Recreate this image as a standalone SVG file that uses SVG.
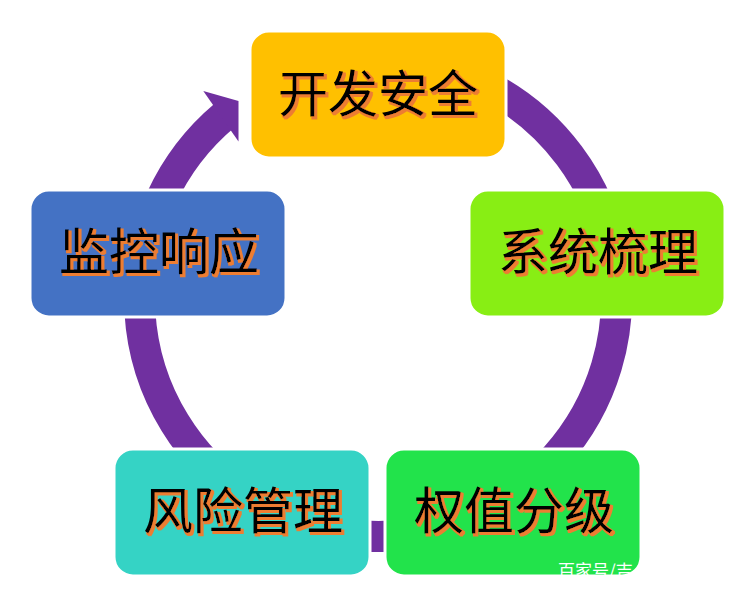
<svg xmlns="http://www.w3.org/2000/svg" width="750" height="591" viewBox="0 0 750 591">
<style>
.box{stroke:#ffffff;stroke-width:3}
.lbl{font-family:"Noto Sans CJK SC","Noto Sans CJK TC",sans-serif;font-size:50px;fill:#000000;text-anchor:middle;filter:url(#sh)}
.wm{font-family:"Noto Sans CJK SC","Noto Sans CJK TC",sans-serif;font-size:17px;fill:#ffffff}
</style>
<defs>
<filter id="sh" x="-10%" y="-20%" width="130%" height="150%">
<feMorphology in="SourceAlpha" operator="dilate" radius="1" result="d"/>
<feOffset in="d" dx="2" dy="2" result="o"/>
<feFlood flood-color="#ED7D31"/>
<feComposite in2="o" operator="in" result="s"/>
<feMerge><feMergeNode in="s"/><feMergeNode in="SourceGraphic"/></feMerge>
</filter>
<clipPath id="wmclip"><rect x="385" y="449" width="256" height="127" rx="19"/></clipPath>
</defs>
<rect width="750" height="591" fill="#ffffff"/>
<g id="connectors">
<path d="M 378 59.5 A 238.5 238.5 0 1 1 224.7 115.3" fill="none" stroke="#7030A0" stroke-width="31"/>
<polygon points="203.3,91 238.5,101 238.5,141.5" fill="#7030A0"/>
</g>
<g id="node-kaifa">
<rect class="box" x="250" y="31" width="256" height="127" rx="19" fill="#FFC000"/>
<text class="lbl" x="378" y="112">开发安全</text>
</g>
<g id="node-xitong">
<rect class="box" x="469" y="190" width="256" height="127" rx="19" fill="#88EE14"/>
<text class="lbl" x="598" y="270">系统梳理</text>
</g>
<g id="node-quanzhi">
<rect class="box" x="385" y="449" width="256" height="127" rx="19" fill="#22E34B"/>
<text class="lbl" x="514" y="529">权值分级</text>
<text class="wm" x="558" y="577" clip-path="url(#wmclip)">百家号/吉</text>
</g>
<g id="node-fengxian">
<rect class="box" x="114" y="449" width="256" height="127" rx="19" fill="#35D3C5"/>
<text class="lbl" x="243" y="529">风险管理</text>
</g>
<g id="node-jiankong">
<rect class="box" x="30" y="190" width="256" height="127" rx="19" fill="#4472C4"/>
<text class="lbl" x="159" y="270">监控响应</text>
</g>
</svg>
